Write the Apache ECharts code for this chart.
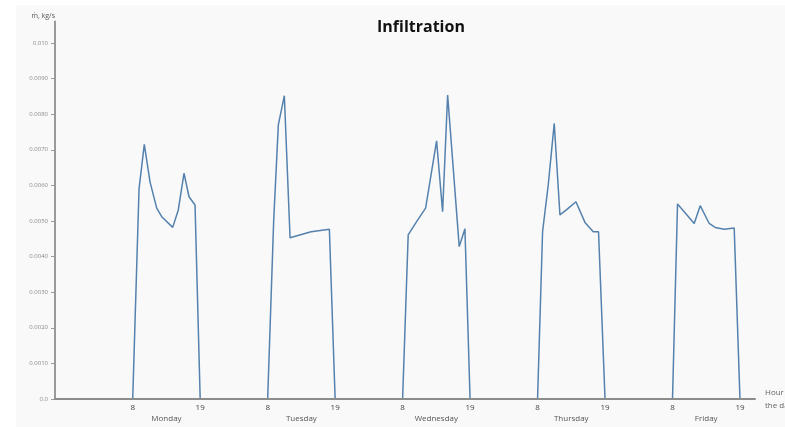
<!DOCTYPE html>
<html>
<head>
<meta charset="utf-8">
<script src="https://cdn.jsdelivr.net/npm/echarts@6/dist/echarts.min.js"></script>
<style>
  html, body { margin: 0; padding: 0; background: #ffffff; }
  #chart { width: 785px; height: 427px; }
</style>
</head>
<body>
<div id="chart"></div>
<script>
// Working days shown on the axis, and the occupied hours marked for each day
const days = ['Monday', 'Tuesday', 'Wednesday', 'Thursday', 'Friday'];
const tickHours = [8, 19];

// Infiltration mass flow (kg/s) against hour of the day, one pair of arrays per day
const mondayHours = [8, 9.03, 9.89, 10.82, 11.91, 12.73, 14.52, 15.43, 16.36, 17.18, 18.16, 19];
const mondayFlow  = [0, 0.0059, 0.00715, 0.0061, 0.00536, 0.00512, 0.00482, 0.00531, 0.00634, 0.00568, 0.00545, 0];

const tuesdayHours = [8, 8.98, 9.74, 10.72, 11.65, 15.08, 18.06, 19];
const tuesdayFlow  = [0, 0.0050, 0.0077, 0.00852, 0.00453, 0.0047, 0.00477, 0];

const wednesdayHours = [8, 8.91, 10.28, 11.75, 13.54, 14.52, 15.34, 17.23, 18.16, 19];
const wednesdayFlow  = [0, 0.00461, 0.00498, 0.00536, 0.00725, 0.00526, 0.00854, 0.00428, 0.00478, 0];

const thursdayHours = [8, 8.82, 9.74, 10.72, 11.65, 12.89, 14.26, 15.73, 17.08, 17.94, 19];
const thursdayFlow  = [0, 0.0047, 0.00601, 0.00774, 0.00517, 0.00534, 0.00554, 0.00496, 0.0047, 0.0047, 0];

const fridayHours = [8, 8.82, 11.54, 12.52, 13.98, 14.96, 16.43, 18.06, 19];
const fridayFlow  = [0, 0.00548, 0.00493, 0.00543, 0.00493, 0.00482, 0.00477, 0.0048, 0];

// Y-axis ticks and their printed labels
const yTicks = [0, 0.001, 0.002, 0.003, 0.004, 0.005, 0.006, 0.007, 0.008, 0.009, 0.010];
const yTickLabels = ['0.0', '0.0010', '0.0020', '0.0030', '0.0040', '0.0050', '0.0060', '0.0070', '0.0080', '0.0090', '0.010'];

// The night between 19 h and 8 h is drawn as long as the working day, so each day spans 22 axis units
const DAY_SPAN = 22;
const dayHours = [mondayHours, tuesdayHours, wednesdayHours, thursdayHours, fridayHours];
const dayFlow = [mondayFlow, tuesdayFlow, wednesdayFlow, thursdayFlow, fridayFlow];

const seriesData = [];
dayHours.forEach((hrs, d) => {
  hrs.forEach((h, i) => seriesData.push([d * DAY_SPAN + h, dayFlow[d][i]]));
});

const xTickValues = [];
const xTickText = {};
days.forEach((_, d) => tickHours.forEach(h => {
  xTickValues.push(d * DAY_SPAN + h);
  xTickText[d * DAY_SPAN + h] = String(h);
}));
const dayCentres = days.map((_, d) => d * DAY_SPAN + (tickHours[0] + tickHours[1]) / 2);
const dayText = {};
dayCentres.forEach((c, d) => { dayText[c] = days[d]; });

const yText = {};
yTicks.forEach((v, i) => { yText[v.toFixed(4)] = yTickLabels[i]; });

const FONT = 'Open Sans';
const chart = echarts.init(document.getElementById('chart'), null, { renderer: 'canvas' });

chart.setOption({
  animation: false,
  backgroundColor: '#ffffff',
  graphic: [{
    type: 'rect',
    z: -10,
    shape: { x: 16, y: 5, width: 769, height: 422 },
    style: { fill: '#f9f9f9' }
  }],
  title: {
    text: 'Infiltration',
    left: 377,
    top: 19,
    padding: 0,
    textStyle: { fontFamily: FONT, fontSize: 16, fontWeight: 'bold', color: '#111111' }
  },
  grid: { left: 55, right: 30, top: 21.6, bottom: 28, containLabel: false, outerBoundsMode: 'none' },
  xAxis: [{
    type: 'value',
    min: -4.67,
    max: 109.45,
    z: 5,
    splitLine: { show: false },
    axisLine: { show: true, onZero: false, lineStyle: { color: '#8c8c8c', width: 2 } },
    axisTick: { show: false, customValues: xTickValues },
    axisLabel: {
      customValues: xTickValues,
      margin: 5,
      fontFamily: FONT,
      fontSize: 8,
      color: '#444444',
      formatter: v => xTickText[v] || ''
    },
    name: 'Hour of\nthe day',
    nameLocation: 'end',
    nameGap: 10,
    nameTextStyle: { fontFamily: FONT, fontSize: 8, color: '#666666', lineHeight: 13, align: 'left', verticalAlign: 'middle' }
  }, {
    type: 'value',
    position: 'bottom',
    min: -4.67,
    max: 109.45,
    splitLine: { show: false },
    axisLine: { show: false, onZero: false },
    axisTick: { show: false, customValues: dayCentres },
    axisLabel: {
      customValues: dayCentres,
      margin: 16,
      fontFamily: FONT,
      fontSize: 8,
      color: '#555555',
      formatter: v => dayText[v] || ''
    }
  }],
  yAxis: {
    type: 'value',
    min: 0,
    max: 0.0106,
    splitLine: { show: false },
    axisLine: { show: true, onZero: false, lineStyle: { color: '#9a9a9a', width: 2 } },
    axisTick: { show: true, inside: false, customValues: yTicks, length: 4, lineStyle: { color: '#9a9a9a', width: 1 } },
    axisLabel: {
      customValues: yTicks,
      margin: 7,
      fontFamily: FONT,
      fontSize: 6,
      color: '#8a8a8a',
      formatter: v => yText[Number(v).toFixed(4)] || ''
    },
    name: 'ṁ, kg/s',
    nameLocation: 'end',
    nameGap: 2,
    nameTextStyle: { fontFamily: FONT, fontSize: 7, color: '#555555', align: 'right', padding: [0, 0, 0, 0] }
  },
  series: [{
    type: 'line',
    xAxisIndex: 0,
    data: seriesData,
    showSymbol: false,
    symbol: 'none',
    lineStyle: { color: '#5481ad', width: 1.5 },
    z: 2
  }]
});
</script>
</body>
</html>
